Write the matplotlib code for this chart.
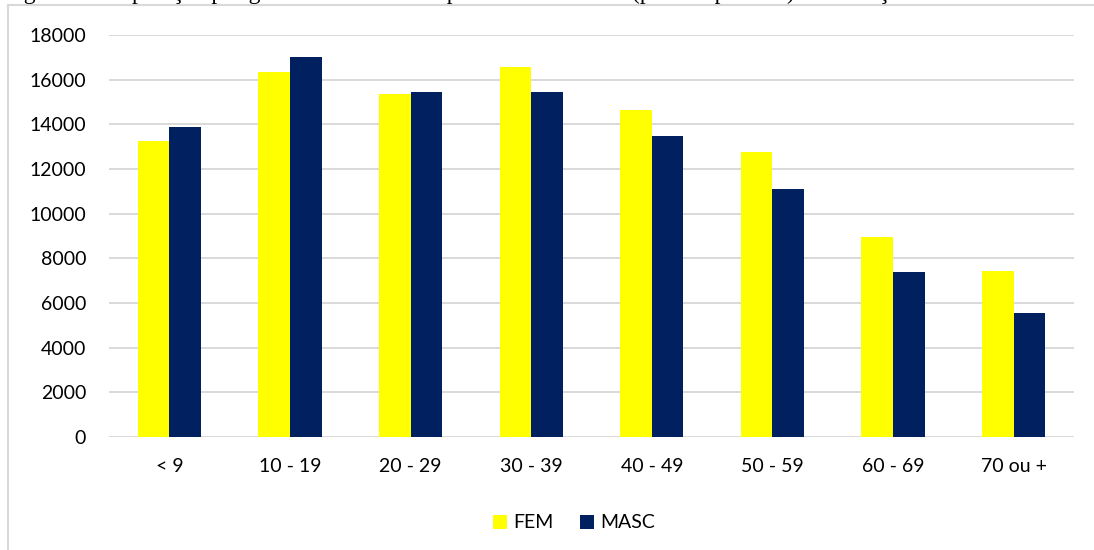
import matplotlib
matplotlib.use("Agg")
import matplotlib.pyplot as plt
import numpy as np
from matplotlib.lines import Line2D

categories = ["< 9", "10 - 19", "20 - 29", "30 - 39", "40 - 49", "50 - 59", "60 - 69", "70 ou +"]
fem = [13270, 16330, 15370, 16570, 14660, 12760, 8960, 7450]
masc = [13900, 17000, 15460, 15450, 13470, 11110, 7380, 5550]
series_names = ["FEM", "MASC"]
yticks = [0, 2000, 4000, 6000, 8000, 10000, 12000, 14000, 16000, 18000]
title_text = ("Figura 2 – População por gênero e faixa etária para o ano de 2010 "
              "(por mil pessoas) no Maciço")

W, H = 1094, 550
fig = plt.figure(figsize=(W / 100, H / 100), dpi=100)
plt.rcParams['font.family'] = ['Lato', 'DejaVu Sans']

# axes placement (pixels)
left, right, top, bottom = 109, 1074, 35, 437
ax = fig.add_axes([left / W, 1 - bottom / H, (right - left) / W, (bottom - top) / H])

x = np.arange(len(categories))
w = 0.262
ax.bar(x - w / 2, fem, width=w, color="#FFFF00", label=series_names[0], zorder=3)
ax.bar(x + w / 2, masc, width=w, color="#002060", label=series_names[1], zorder=3)

ax.set_xlim(-0.5, len(categories) - 0.5)
ax.set_ylim(0, 18000)
ax.set_yticks(yticks)
ax.set_yticklabels([str(v) for v in yticks])
ax.set_xticks(x)
ax.set_xticklabels(categories)
ax.tick_params(axis="both", length=0, labelsize=14, colors="#000000")
ax.tick_params(axis="y", pad=16.5)
ax.tick_params(axis="x", pad=15)
ax.grid(axis="y", color="#d9d9d9", linewidth=1.4, zorder=0)
for s in ax.spines.values():
    s.set_visible(False)
ax.set_facecolor("white")

leg = fig.legend(loc="center", bbox_to_anchor=(574 / W, 1 - 523 / H), ncol=2, frameon=False,
                 fontsize=14, handlelength=0.72, handleheight=0.72, handletextpad=0.35,
                 columnspacing=1.35)

# outer chart border (light gray), partially visible
fig.add_artist(Line2D([8 / W, 1.0], [1 - 5 / H, 1 - 5 / H], transform=fig.transFigure,
                      color="#d9d9d9", linewidth=1.5))
fig.add_artist(Line2D([8 / W, 8 / W], [1 - 5 / H, 0.0], transform=fig.transFigure,
                      color="#d9d9d9", linewidth=1.5))

# caption cut off at the very top (only its lowest part shows, as in the reference)
fig.text(4 / W, 1 + 0.5 / H, title_text, family=["Liberation Serif", "DejaVu Serif"],
         fontsize=17, ha="left", va="baseline", color="black")

fig.savefig("out.png", dpi=100, facecolor="white")
